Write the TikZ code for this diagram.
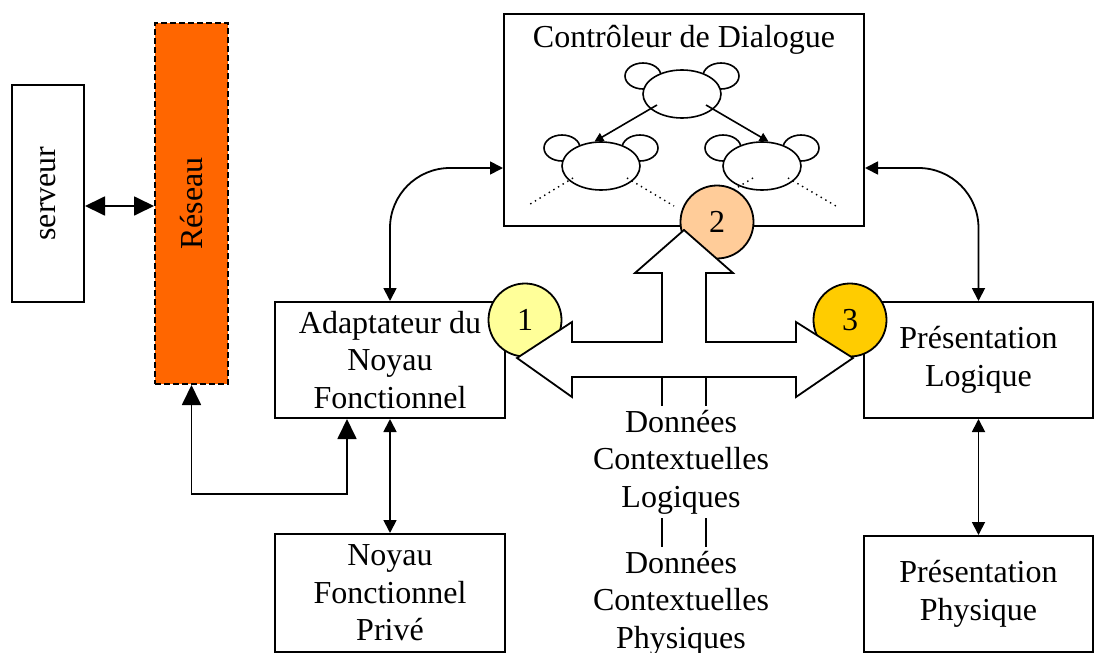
\documentclass[tikz,border=0pt]{standalone}
\usepackage{graphicx}
\usepackage{fontspec}
\setmainfont{Liberation Serif}
\usetikzlibrary{arrows.meta,shapes.geometric,calc}

\definecolor{reseauorange}{HTML}{FF6600}
\definecolor{puceun}{HTML}{FFFF99}
\definecolor{pucedeux}{HTML}{FFCC99}
\definecolor{pucetrois}{HTML}{FFCC00}

\tikzset{
  texte/.style={align=center,inner sep=2pt,font=\fontsize{16}{18.75}\selectfont},
  box/.style={texte,draw,line width=1pt,inner sep=0pt},
  puce/.style={circle,draw,line width=0.9pt,minimum size=36.5pt,inner sep=0pt,font=\fontsize{16}{18}\selectfont},
  lien/.style={line width=0.9pt,{Triangle[length=6.5pt,width=6.5pt]}-{Triangle[length=6.5pt,width=6.5pt]}},
  grandlien/.style={line width=0.9pt,{Triangle[length=10pt,width=9.5pt]}-{Triangle[length=10pt,width=9.5pt]}},
  tete/.style={ellipse,draw,fill=white,line width=0.8pt,minimum width=39pt,minimum height=24pt,inner sep=0pt},
  oreille/.style={draw,fill=white,line width=0.8pt},
}

\begin{document}
\begin{tikzpicture}[x=0.5pt,y=-0.5pt]
  \useasboundingbox (0,0) rectangle (1094,653);

  % boites
  \node[box,minimum width=36pt,minimum height=108.5pt] (serveur) at (48,193.5) {\rotatebox{90}{serveur}};
  \node[box,dash pattern=on 3pt off 1.5pt,fill=reseauorange,minimum width=36.5pt,minimum height=180.5pt] (reseau) at (191.5,203.5) {\rotatebox{90}{Réseau}};
  \node[box,minimum width=115pt,minimum height=58pt] (adapt) at (390,360) {Adaptateur du\\Noyau\\Fonctionnel};
  \node[box,minimum width=115pt,minimum height=59pt] (noyau) at (390,593) {Noyau\\Fonctionnel\\Privé};
  \node[box,minimum width=180pt,minimum height=106pt] (ctrl) at (684,120) {};
  \node[texte] (titre) at (684,40) {Contrôleur de Dialogue};
  \node[box,minimum width=114.5pt,minimum height=58pt] (plog) at (978.5,360) {Présentation\\Logique};
  \node[box,minimum width=114.5pt,minimum height=58pt] (pphys) at (978.5,594) {Présentation\\Physique};

  % petites tetes du controleur
  \foreach \fx/\fy/\n in {682/94/0,601/166/1,762/166/2} {
    \draw[oreille] (\fx-39,\fy-18) ellipse [x radius=9pt,y radius=6.5pt];
    \draw[oreille] (\fx+39,\fy-18) ellipse [x radius=9pt,y radius=6.5pt];
    \node[tete] (tete\n) at (\fx,\fy) {};
  }
  \draw[line width=0.8pt,-{Triangle[length=4.5pt,width=4.5pt]}] ($(tete0)+(-25,11)$) -- (tete1.105);
  \draw[line width=0.8pt,-{Triangle[length=4.5pt,width=4.5pt]}] ($(tete0)+(24,11)$) -- (tete2.75);
  \draw[dotted,line width=0.7pt] ($(tete1)+(-28,12)$) -- ++(-46,28);
  \draw[dotted,line width=0.7pt] ($(tete1)+(26,12)$) -- ++(47,28);
  \draw[dotted,line width=0.7pt] ($(tete2)+(-9,12)$) -- ++(-46,28);
  \draw[dotted,line width=0.7pt] ($(tete2)+(26,12)$) -- ++(48,28);

  % liens
  \draw[grandlien] (serveur.east |- 0,206) -- (reseau.west |- 0,206);
  \draw[grandlien] ([xshift=-21.5pt]adapt.south) -- ++(0,75) -| (reseau.south);
  \draw[lien] (adapt.south) -- (noyau.north);
  \draw[lien,rounded corners=30pt] (adapt.north) |- ([yshift=-24pt]ctrl.west);
  \draw[lien,rounded corners=30pt] (plog.north) |- ([yshift=-24pt]ctrl.east);
  \draw[lien] (plog.south) -- (pphys.north);

  % pastilles
  \node[puce,fill=puceun] (p1) at (525,320) {1};
  \node[puce,fill=pucedeux] (p2) at (717,222) {2};
  \node[puce,fill=pucetrois] (p3) at (850,320) {3};

  % fleche a trois branches
  \draw[line width=0.9pt,fill=white] (517,358) -- (572,322) -- (572,342) -- (662,342) -- (662,273)
    -- (635,273) -- (684,230) -- (733,273) -- (706,273) -- (706,342) -- (796,342) -- (796,322)
    -- (853,358) -- (796,397) -- (796,377) -- (572,377) -- (572,397) -- cycle;
  \coordinate (fb1) at (662,377);
  \coordinate (fb2) at (706,377);

  % donnees contextuelles
  \node[texte] (dcl) at (681,462) {Données\\Contextuelles\\Logiques};
  \node[texte] (dcp) at (681,603) {Données\\Contextuelles\\Physiques};
  \draw[line width=0.9pt] (fb1) -- (fb1 |- dcl.north);
  \draw[line width=0.9pt] (fb2) -- (fb2 |- dcl.north);
  \draw[line width=0.9pt] (dcl.south -| fb1) -- (dcp.north -| fb1);
  \draw[line width=0.9pt] (dcl.south -| fb2) -- (dcp.north -| fb2);
\end{tikzpicture}
\end{document}
